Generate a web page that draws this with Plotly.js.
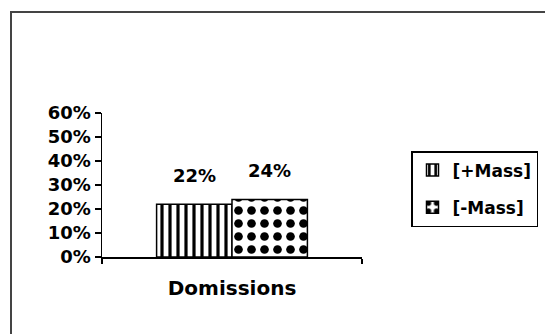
<!DOCTYPE html>
<html>
<head>
<meta charset="utf-8">
<script src="https://cdn.plot.ly/plotly-3.0.1.min.js"></script>
<style>
  html, body { margin: 0; padding: 0; background: #fff; }
  #wrap { position: relative; width: 545px; height: 334px; overflow: hidden; }
  #frame { position: absolute; left: 10px; top: 11px; width: 560px; height: 360px;
           border: 2px solid #444; box-sizing: border-box; }
  #chart { position: absolute; left: 0; top: 0; width: 545px; height: 334px; }
</style>
</head>
<body>
<div id="wrap">
  <div id="frame"></div>
  <div id="chart"></div>
</div>
<script>
const categories = ["Domissions"];
const seriesNames = ["[+Mass]", "[-Mass]"];
const plusMass = [0.22];
const minusMass = [0.24];
const yTickVals = [0, 0.1, 0.2, 0.3, 0.4, 0.5, 0.6];
const yTickText = ["0%", "10%", "20%", "30%", "40%", "50%", "60%"];

const FONT = "DejaVu Sans, Arial, sans-serif";
const BARGAP = 0.42;
const series = [plusMass, minusMass];

const traces = [
  {
    type: "bar", name: seriesNames[0], x: categories, y: plusMass,
    legendgroup: "a",
    marker: { color: "#fff", line: { color: "#000", width: 1.5 },
      pattern: { shape: "|", fgcolor: "#000", bgcolor: "#fff", size: 8, solidity: 0.4, fillmode: "replace" } }
  },
  {
    type: "bar", name: seriesNames[1], x: categories, y: minusMass,
    legendgroup: "b",
    marker: { color: "#fff", line: { color: "#000", width: 1.5 },
      pattern: { shape: ".", fgcolor: "#000", bgcolor: "#fff", size: 13, solidity: 0.35, fillmode: "replace" } }
  }
];

// value labels above each bar, placed at the grouped-bar centres
const barW = (1 - BARGAP) / series.length;
const annotations = [];
series.forEach((vals, s) => {
  vals.forEach((v, i) => {
    annotations.push({
      xref: "x", yref: "y",
      x: i - (1 - BARGAP) / 2 + barW * (s + 0.5),
      y: v, yanchor: "bottom", yshift: 16, showarrow: false,
      text: Math.round(v * 100) + "%",
      font: { family: FONT, size: 18, color: "#000", weight: "bold" }
    });
  });
});

const layout = {
  width: 545, height: 334,
  margin: { l: 102, r: 183, t: 113, b: 77, autoexpand: false },
  paper_bgcolor: "rgba(0,0,0,0)", plot_bgcolor: "rgba(0,0,0,0)",
  barmode: "group", bargap: BARGAP, bargroupgap: 0,
  font: { family: FONT, color: "#000" },
  showlegend: true,
  annotations: annotations,
  legend: {
    xref: "container", yref: "container",
    x: 411 / 545, y: 1 - 151 / 334, xanchor: "left", yanchor: "top",
    bordercolor: "#000", borderwidth: 1.5, bgcolor: "#fff",
    traceorder: "grouped", tracegroupgap: 12,
    font: { family: FONT, size: 17, color: "#000", weight: "bold" },
    itemwidth: 30
  },
  xaxis: {
    type: "category", showline: true, linecolor: "#000", linewidth: 1.5,
    ticks: "outside", tickson: "boundaries", ticklen: 5, tickcolor: "#000", tickwidth: 1.5,
    showgrid: false, zeroline: false, automargin: false,
    tickfont: { family: FONT, size: 20, color: "#000", weight: "bold" },
    ticklabelstandoff: 12
  },
  yaxis: {
    range: [0, 0.6], showline: true, linecolor: "#000", linewidth: 1.5,
    ticks: "outside", ticklen: 6, tickcolor: "#000", tickwidth: 1.5,
    tickvals: yTickVals, ticktext: yTickText,
    showgrid: false, zeroline: false, automargin: false,
    tickfont: { family: FONT, size: 18, color: "#000", weight: "bold" }
  }
};

Plotly.newPlot("chart", traces, layout, { displayModeBar: false, staticPlot: true });
</script>
</body>
</html>
